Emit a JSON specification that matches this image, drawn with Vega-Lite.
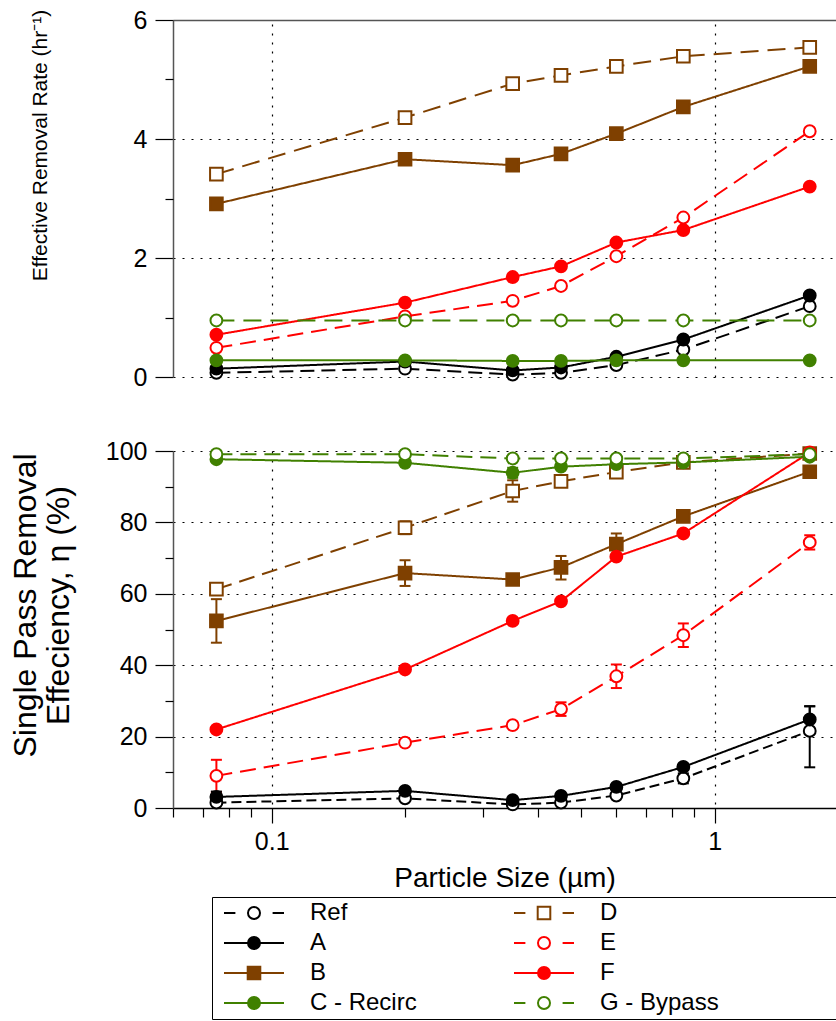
{
"$schema": "https://vega.github.io/schema/vega-lite/v6.json",
"autosize": {"type": "none"},
"padding": {"left": 173, "top": 20, "right": 663, "bottom": 1001},
"background": "white",
"spacing": 74,
"bounds": "flush",
"config": {
  "view": {"stroke": null},
  "font": "Liberation Sans",
  "axis": {"labelFont": "Liberation Sans", "titleFont": "Liberation Sans", "labelColor": "black", "titleColor": "black", "titleFontWeight": "normal", "tickColor": "black", "domainColor": "#555555", "domainWidth": 1.5, "gridColor": "black", "gridDash": [2, 7], "gridWidth": 1.2, "gridOpacity": 1, "labelFontSize": 25, "tickWidth": 1.2},
  "legend": {"labelFont": "Liberation Sans", "labelColor": "black"}
},
"datasets": {
  "rate": [
    {"s": "Ref", "x": 0.075, "v": 0.07}, {"s": "Ref", "x": 0.2, "v": 0.14}, {"s": "Ref", "x": 0.35, "v": 0.04}, {"s": "Ref", "x": 0.45, "v": 0.07}, {"s": "Ref", "x": 0.6, "v": 0.20}, {"s": "Ref", "x": 0.85, "v": 0.46}, {"s": "Ref", "x": 1.64, "v": 1.19},
    {"s": "A", "x": 0.075, "v": 0.14}, {"s": "A", "x": 0.2, "v": 0.26}, {"s": "A", "x": 0.35, "v": 0.11}, {"s": "A", "x": 0.45, "v": 0.16}, {"s": "A", "x": 0.6, "v": 0.34}, {"s": "A", "x": 0.85, "v": 0.63}, {"s": "A", "x": 1.64, "v": 1.37},
    {"s": "B", "x": 0.075, "v": 2.91}, {"s": "B", "x": 0.2, "v": 3.66}, {"s": "B", "x": 0.35, "v": 3.56}, {"s": "B", "x": 0.45, "v": 3.75}, {"s": "B", "x": 0.6, "v": 4.09}, {"s": "B", "x": 0.85, "v": 4.54}, {"s": "B", "x": 1.64, "v": 5.22},
    {"s": "D", "x": 0.075, "v": 3.41}, {"s": "D", "x": 0.2, "v": 4.36}, {"s": "D", "x": 0.35, "v": 4.93}, {"s": "D", "x": 0.45, "v": 5.07}, {"s": "D", "x": 0.6, "v": 5.22}, {"s": "D", "x": 0.85, "v": 5.39}, {"s": "D", "x": 1.64, "v": 5.54},
    {"s": "E", "x": 0.075, "v": 0.49}, {"s": "E", "x": 0.2, "v": 1.02}, {"s": "E", "x": 0.35, "v": 1.28}, {"s": "E", "x": 0.45, "v": 1.53}, {"s": "E", "x": 0.6, "v": 2.03}, {"s": "E", "x": 0.85, "v": 2.68}, {"s": "E", "x": 1.64, "v": 4.13},
    {"s": "F", "x": 0.075, "v": 0.71}, {"s": "F", "x": 0.2, "v": 1.25}, {"s": "F", "x": 0.35, "v": 1.68}, {"s": "F", "x": 0.45, "v": 1.86}, {"s": "F", "x": 0.6, "v": 2.26}, {"s": "F", "x": 0.85, "v": 2.47}, {"s": "F", "x": 1.64, "v": 3.20},
    {"s": "C - Recirc", "x": 0.075, "v": 0.28}, {"s": "C - Recirc", "x": 0.2, "v": 0.28}, {"s": "C - Recirc", "x": 0.35, "v": 0.27}, {"s": "C - Recirc", "x": 0.45, "v": 0.27}, {"s": "C - Recirc", "x": 0.6, "v": 0.28}, {"s": "C - Recirc", "x": 0.85, "v": 0.28}, {"s": "C - Recirc", "x": 1.64, "v": 0.28},
    {"s": "G - Bypass", "x": 0.075, "v": 0.95}, {"s": "G - Bypass", "x": 0.2, "v": 0.95}, {"s": "G - Bypass", "x": 0.35, "v": 0.95}, {"s": "G - Bypass", "x": 0.45, "v": 0.95}, {"s": "G - Bypass", "x": 0.6, "v": 0.95}, {"s": "G - Bypass", "x": 0.85, "v": 0.95}, {"s": "G - Bypass", "x": 1.64, "v": 0.95}
  ],
  "eff": [
    {"s": "Ref", "x": 0.075, "v": 1.5}, {"s": "Ref", "x": 0.2, "v": 2.7}, {"s": "Ref", "x": 0.35, "v": 1.0}, {"s": "Ref", "x": 0.45, "v": 1.5}, {"s": "Ref", "x": 0.6, "v": 3.5}, {"s": "Ref", "x": 0.85, "v": 8.3, "lo": 6.9, "hi": 9.7}, {"s": "Ref", "x": 1.64, "v": 21.6, "lo": 11.4, "hi": 28.5},
    {"s": "A", "x": 0.075, "v": 3.1, "lo": 1.6, "hi": 4.6}, {"s": "A", "x": 0.2, "v": 4.8}, {"s": "A", "x": 0.35, "v": 2.2}, {"s": "A", "x": 0.45, "v": 3.4}, {"s": "A", "x": 0.6, "v": 5.9}, {"s": "A", "x": 0.85, "v": 11.5}, {"s": "A", "x": 1.64, "v": 24.8, "lo": 21.2, "hi": 28.5},
    {"s": "B", "x": 0.075, "v": 52.4, "lo": 46.3, "hi": 58.5}, {"s": "B", "x": 0.2, "v": 65.8, "lo": 62.2, "hi": 69.4}, {"s": "B", "x": 0.35, "v": 64.0}, {"s": "B", "x": 0.45, "v": 67.4, "lo": 64.0, "hi": 70.6}, {"s": "B", "x": 0.6, "v": 73.9, "lo": 70.9, "hi": 76.9}, {"s": "B", "x": 0.85, "v": 81.7}, {"s": "B", "x": 1.64, "v": 94.2},
    {"s": "D", "x": 0.075, "v": 61.3}, {"s": "D", "x": 0.2, "v": 78.5, "lo": 76.7, "hi": 80.3}, {"s": "D", "x": 0.35, "v": 88.8, "lo": 85.8, "hi": 91.8}, {"s": "D", "x": 0.45, "v": 91.5}, {"s": "D", "x": 0.6, "v": 94.1}, {"s": "D", "x": 0.85, "v": 96.8}, {"s": "D", "x": 1.64, "v": 99.3},
    {"s": "E", "x": 0.075, "v": 9.0, "lo": 4.5, "hi": 13.5}, {"s": "E", "x": 0.2, "v": 18.3}, {"s": "E", "x": 0.35, "v": 23.2}, {"s": "E", "x": 0.45, "v": 27.7, "lo": 25.8, "hi": 29.6}, {"s": "E", "x": 0.6, "v": 36.9, "lo": 33.6, "hi": 40.2}, {"s": "E", "x": 0.85, "v": 48.4, "lo": 45.1, "hi": 51.7}, {"s": "E", "x": 1.64, "v": 74.4, "lo": 72.4, "hi": 76.4},
    {"s": "F", "x": 0.075, "v": 22.0}, {"s": "F", "x": 0.2, "v": 38.8}, {"s": "F", "x": 0.35, "v": 52.4}, {"s": "F", "x": 0.45, "v": 57.9}, {"s": "F", "x": 0.6, "v": 70.4}, {"s": "F", "x": 0.85, "v": 76.9}, {"s": "F", "x": 1.64, "v": 99.6},
    {"s": "C - Recirc", "x": 0.075, "v": 97.7}, {"s": "C - Recirc", "x": 0.2, "v": 96.7}, {"s": "C - Recirc", "x": 0.35, "v": 93.9, "lo": 92.5, "hi": 95.3}, {"s": "C - Recirc", "x": 0.45, "v": 95.6}, {"s": "C - Recirc", "x": 0.6, "v": 96.3}, {"s": "C - Recirc", "x": 0.85, "v": 96.8}, {"s": "C - Recirc", "x": 1.64, "v": 98.4},
    {"s": "G - Bypass", "x": 0.075, "v": 99.1}, {"s": "G - Bypass", "x": 0.2, "v": 99.1}, {"s": "G - Bypass", "x": 0.35, "v": 97.9}, {"s": "G - Bypass", "x": 0.45, "v": 97.9}, {"s": "G - Bypass", "x": 0.6, "v": 97.9}, {"s": "G - Bypass", "x": 0.85, "v": 97.9}, {"s": "G - Bypass", "x": 1.64, "v": 99.1}
  ]
},
"vconcat": [
  {
    "width": 663, "height": 357,
    "data": {"name": "rate"},
    "layer": [
      {
        "mark": {"type": "line", "strokeWidth": 2},
        "encoding": {
          "x": {"field": "x", "type": "quantitative", "scale": {"type": "log", "domain": [0.05985, 1.88], "nice": false}, "axis": {"orient": "top", "values": [0.1, 1], "labels": false, "ticks": false, "domain": true, "grid": true, "title": null}},
          "y": {"field": "v", "type": "quantitative", "scale": {"domain": [0, 6], "nice": false, "zero": false}, "axis": {"orient": "left", "values": [0, 2, 4, 6], "tickSize": 18, "labelPadding": 8, "grid": true, "title": "Effective Removal Rate (hr⁻¹)", "titleFontSize": 21, "titleX": -133, "titleY": 125, "titleAlign": "center", "titleBaseline": "middle", "titleAngle": 270}},
          "color": {"field": "s", "type": "nominal", "scale": {"range": ["#000000", "#7F4000", "#408000", "#7F4000", "#FF0000", "#FF0000", "#408000", "#000000"]}, "legend": null},
          "strokeDash": {"condition": [{"test": "datum.s === 'Ref'", "value": [14, 7]}, {"test": "datum.s === 'D' || datum.s === 'G - Bypass'", "value": [18, 9]}, {"test": "datum.s === 'E'", "value": [16, 8]}], "value": [1, 0]},
          "strokeWidth": {"condition": {"test": "datum.s === 'E'", "value": 1}, "value": 2}
        }
      },
      {
        "transform": [{"filter": "datum.s !== 'B' && datum.s !== 'D'"}],
        "mark": {"type": "point", "shape": "circle", "size": 140, "strokeWidth": 2, "opacity": 1},
        "encoding": {
          "x": {"field": "x", "type": "quantitative"},
          "y": {"field": "v", "type": "quantitative", "axis": {"orient": "left", "values": [1, 3, 5], "tickSize": 8, "labels": false, "domain": false, "grid": false, "title": null}},
          "stroke": {"field": "s", "type": "nominal", "scale": {"domain": ["Ref", "A", "B", "C - Recirc", "D", "E", "F", "G - Bypass"], "range": ["#000000", "#000000", "#7F4000", "#408000", "#7F4000", "#FF0000", "#FF0000", "#408000"]}},
          "fill": {"field": "s", "type": "nominal", "scale": {"domain": ["Ref", "A", "B", "C - Recirc", "D", "E", "F", "G - Bypass"], "range": ["#FFFFFF", "#000000", "#7F4000", "#408000", "#FFFFFF", "#FFFFFF", "#FF0000", "#FFFFFF"]}}
        }
      },
      {
        "transform": [{"filter": "datum.s === 'B' || datum.s === 'D'"}],
        "mark": {"type": "point", "shape": "square", "size": 160, "strokeWidth": 2, "opacity": 1},
        "encoding": {
          "x": {"field": "x", "type": "quantitative"},
          "y": {"field": "v", "type": "quantitative", "axis": null},
          "stroke": {"field": "s", "type": "nominal"},
          "fill": {"field": "s", "type": "nominal"}
        }
      }
    ],
    "resolve": {"axis": {"y": "independent"}}
  },
  {
    "width": 663, "height": 357,
    "data": {"name": "eff"},
    "layer": [
      {
        "mark": {"type": "line", "strokeWidth": 2},
        "encoding": {
          "x": {"field": "x", "type": "quantitative", "scale": {"type": "log", "domain": [0.05985, 1.88], "nice": false}, "axis": {"orient": "bottom", "values": [0.1, 1], "format": "~g", "tickSize": 15, "labelPadding": 6, "grid": true, "domainColor": "black", "title": "Particle Size (µm)", "titleFontSize": 28, "titlePadding": 10}},
          "y": {"field": "v", "type": "quantitative", "scale": {"domain": [0, 100], "nice": false}, "axis": {"orient": "left", "values": [0, 20, 40, 60, 80, 100], "tickSize": 18, "labelPadding": 8, "grid": true, "title": ["Single Pass Removal", "Effeciency, η (%)"], "titleFontSize": 32, "titleLineHeight": 33, "titleX": -148, "titleY": 154, "titleAlign": "center", "titleBaseline": "middle", "titleAngle": 270}},
          "color": {"field": "s", "type": "nominal", "legend": null},
          "strokeDash": {"condition": [{"test": "datum.s === 'Ref'", "value": [10, 5]}, {"test": "datum.s === 'D' || datum.s === 'G - Bypass' || datum.s === 'E'", "value": [16, 8]}], "value": [1, 0]}
        }
      },
      {
        "transform": [{"filter": "isValid(datum.lo)"}],
        "mark": {"type": "rule", "strokeWidth": 2},
        "encoding": {
          "x": {"field": "x", "type": "quantitative", "axis": null},
          "y": {"field": "lo", "type": "quantitative", "axis": null},
          "y2": {"field": "hi"},
          "color": {"field": "s", "type": "nominal", "legend": null}
        }
      },
      {
        "transform": [{"filter": "isValid(datum.lo)"}],
        "mark": {"type": "tick", "orient": "horizontal", "size": 11, "thickness": 2, "opacity": 1},
        "encoding": {
          "x": {"field": "x", "type": "quantitative", "axis": null},
          "y": {"field": "lo", "type": "quantitative", "axis": null},
          "color": {"field": "s", "type": "nominal", "legend": null}
        }
      },
      {
        "transform": [{"filter": "isValid(datum.hi)"}],
        "mark": {"type": "tick", "orient": "horizontal", "size": 11, "thickness": 2, "opacity": 1},
        "encoding": {
          "x": {"field": "x", "type": "quantitative", "axis": null},
          "y": {"field": "hi", "type": "quantitative", "axis": null},
          "color": {"field": "s", "type": "nominal", "legend": null}
        }
      },
      {
        "transform": [{"filter": "datum.s === 'B' || datum.s === 'D'"}],
        "mark": {"type": "point", "shape": "square", "size": 160, "strokeWidth": 2, "opacity": 1},
        "encoding": {
          "x": {"field": "x", "type": "quantitative", "axis": null},
          "y": {"field": "v", "type": "quantitative", "axis": null},
          "stroke": {"field": "s", "type": "nominal"},
          "fill": {"field": "s", "type": "nominal"}
        }
      },
      {
        "transform": [{"filter": "datum.s !== 'B' && datum.s !== 'D'"}],
        "mark": {"type": "point", "shape": "circle", "size": 140, "strokeWidth": 2, "opacity": 1},
        "encoding": {
          "x": {"field": "x", "type": "quantitative", "axis": {"orient": "bottom", "values": [0.06, 0.07, 0.08, 0.09, 0.2, 0.3, 0.4, 0.5, 0.6, 0.7, 0.8, 0.9], "tickSize": 9, "labels": false, "domain": false, "grid": false, "title": null}},
          "y": {"field": "v", "type": "quantitative", "axis": {"orient": "left", "values": [10, 30, 50, 70, 90], "tickSize": 8, "labels": false, "domain": false, "grid": false, "title": null}},
          "stroke": {"field": "s", "type": "nominal", "scale": {"domain": ["Ref", "A", "B", "C - Recirc", "D", "E", "F", "G - Bypass"], "range": ["#000000", "#000000", "#7F4000", "#408000", "#7F4000", "#FF0000", "#FF0000", "#408000"]}},
          "fill": {"field": "s", "type": "nominal", "scale": {"domain": ["Ref", "A", "B", "C - Recirc", "D", "E", "F", "G - Bypass"], "range": ["#FFFFFF", "#000000", "#7F4000", "#408000", "#FFFFFF", "#FFFFFF", "#FF0000", "#FFFFFF"]}}
        }
      },
      {
        "mark": {"type": "point", "opacity": 0, "strokeWidth": 2},
        "encoding": {
          "x": {"field": "x", "type": "quantitative", "axis": null},
          "y": {"field": "v", "type": "quantitative", "axis": null},
          "stroke": {"field": "s", "type": "nominal"},
          "fill": {"field": "s", "type": "nominal"},
          "shape": {"field": "s", "type": "nominal",
            "scale": {"domain": ["Ref", "A", "B", "C - Recirc", "D", "E", "F", "G - Bypass"],
              "range": [
                "M-1,0L-0.62,0M0.62,0L1,0M0.2,0A0.2,0.2,0,1,1,-0.2,0A0.2,0.2,0,1,1,0.2,0Z",
                "M-1,0L1,0M0.2,0A0.2,0.2,0,1,1,-0.2,0A0.2,0.2,0,1,1,0.2,0Z",
                "M-1,0L1,0M-0.21,-0.21L0.21,-0.21L0.21,0.21L-0.21,0.21Z",
                "M-1,0L1,0M0.2,0A0.2,0.2,0,1,1,-0.2,0A0.2,0.2,0,1,1,0.2,0Z",
                "M-1,0L-0.62,0M0.62,0L1,0M-0.21,-0.21L0.21,-0.21L0.21,0.21L-0.21,0.21Z",
                "M-1,0L-0.62,0M0.62,0L1,0M0.2,0A0.2,0.2,0,1,1,-0.2,0A0.2,0.2,0,1,1,0.2,0Z",
                "M-1,0L1,0M0.2,0A0.2,0.2,0,1,1,-0.2,0A0.2,0.2,0,1,1,0.2,0Z",
                "M-1,0L-0.62,0M0.62,0L1,0M0.2,0A0.2,0.2,0,1,1,-0.2,0A0.2,0.2,0,1,1,0.2,0Z"
              ]},
            "legend": {"title": " ", "titleOrient": "right", "titlePadding": 113, "titleFontSize": 10, "orient": "none", "legendX": 39, "legendY": 877, "columns": 2, "columnPadding": 89, "rowPadding": 6, "clipHeight": 24, "padding": 4, "strokeColor": "black", "fillColor": "white", "symbolSize": 3600, "symbolStrokeWidth": 2, "symbolOpacity": 1, "symbolOffset": 7, "labelOffset": 25, "labelFontSize": 24, "labelFont": "Liberation Sans", "labelColor": "black", "labelLimit": 300}
          }
        }
      }
    ],
    "resolve": {"axis": {"x": "independent", "y": "independent"}}
  }
]
}
